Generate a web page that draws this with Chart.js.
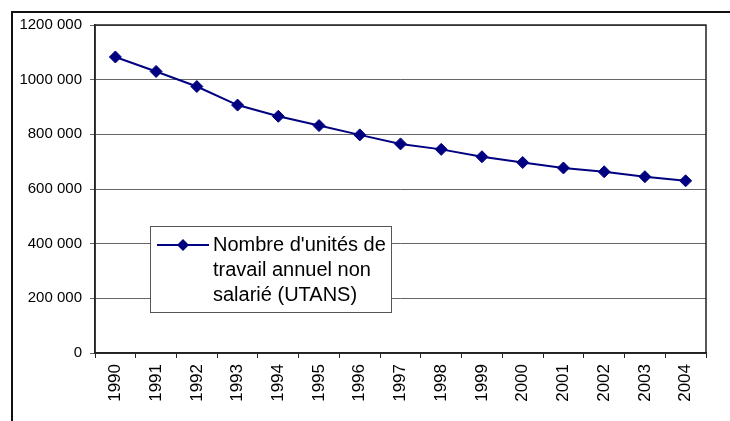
<!DOCTYPE html>
<html>
<head>
<meta charset="utf-8">
<script src="https://cdn.jsdelivr.net/npm/chart.js@4.4.1/dist/chart.umd.min.js"></script>
<style>
  html, body { margin: 0; padding: 0; background: #fff; }
  body { width: 730px; height: 421px; position: relative; overflow: hidden; }
  #frame { position: absolute; left: 11px; top: 11px; width: 740px; height: 440px; border: 2px solid #111; }
  #wrap { position: absolute; left: 0; top: 0; width: 730px; height: 421px; }
</style>
</head>
<body>
<div id="frame"></div>
<div id="wrap"><canvas id="chart"></canvas></div>
<script>
// data
const years = ['1990', '1991', '1992', '1993', '1994', '1995', '1996', '1997',
               '1998', '1999', '2000', '2001', '2002', '2003', '2004']
const utans = [1083000, 1030000, 975000, 907000, 866000, 832000, 798000, 765000,
               745000, 718000, 697000, 677000, 663000, 645000, 630000]
const seriesLabel = "Nombre d'unités de travail annuel non salarié (UTANS)"
const legendLines = ["Nombre d'unités de", "travail annuel non", "salarié (UTANS)"]
const yMax = 1200000
const yStep = 200000

// "1200 000" style
const formatTick = v => {
    if (v < 1000) return String(v)
    const thousands = Math.floor(v / 1000)
    return thousands + ' ' + String(v % 1000).padStart(3, '0')
}

// plot area border + boxed legend sitting inside the plot
const framePlugin = {
    id: 'frameAndLegend',
    afterDraw(chart) {
        const {ctx, chartArea} = chart
        ctx.save()
        ctx.strokeStyle = '#222'
        ctx.lineWidth = 1.5
        ctx.strokeRect(chartArea.left, chartArea.top, chartArea.right - chartArea.left, chartArea.bottom - chartArea.top)

        const bx = chartArea.left + 55, by = chartArea.top + 201
        const bw = 241, bh = 86
        ctx.fillStyle = '#fff'
        ctx.fillRect(bx, by, bw, bh)
        ctx.strokeStyle = '#555'
        ctx.lineWidth = 1
        ctx.strokeRect(bx + 0.5, by + 0.5, bw, bh)

        const ds = chart.data.datasets[0]
        const ly = by + 19
        ctx.strokeStyle = ds.borderColor
        ctx.lineWidth = 2
        ctx.beginPath()
        ctx.moveTo(bx + 7, ly)
        ctx.lineTo(bx + 59, ly)
        ctx.stroke()
        ctx.fillStyle = ds.backgroundColor
        ctx.beginPath()
        ctx.moveTo(bx + 33, ly - 6)
        ctx.lineTo(bx + 39, ly)
        ctx.lineTo(bx + 33, ly + 6)
        ctx.lineTo(bx + 27, ly)
        ctx.closePath()
        ctx.fill()

        ctx.fillStyle = '#000'
        ctx.font = '20px "Liberation Sans", Arial, sans-serif'
        ctx.textBaseline = 'middle'
        legendLines.forEach((line, i) => {
            ctx.fillText(line, bx + 63, ly + i * 25)
        })
        ctx.restore()
    }
}

const data = {
    labels: years,
    datasets: [{
        label: seriesLabel,
        data: utans,
        borderColor: '#000080',
        backgroundColor: '#000080',
        borderWidth: 2,
        pointStyle: 'rectRot',
        pointRadius: 6,
        pointBorderWidth: 1,
        pointBorderColor: '#000080',
        pointBackgroundColor: '#000080',
        tension: 0
    }]
}

const config = {
    type: 'line',
    data,
    options: {
        responsive: false,
        animation: false,
        devicePixelRatio: 1,
        layout: { padding: { top: 25, right: 24, bottom: 0, left: 0 } },
        plugins: {
            legend: { display: false },
            tooltip: { enabled: false }
        },
        scales: {
            x: {
                offset: true,
                grid: { offset: true, drawOnChartArea: false, drawTicks: true, tickLength: 5, color: '#222' },
                border: { color: '#222', width: 1.5 },
                ticks: {
                    minRotation: 90, maxRotation: 90, autoSkip: false, padding: 6,
                    color: '#000',
                    font: { family: '"Liberation Sans", Arial, sans-serif', size: 17 }
                },
                afterFit(scale) { scale.height = 68 }
            },
            y: {
                min: 0,
                max: yMax,
                ticks: {
                    stepSize: yStep, padding: 8, color: '#000',
                    callback: formatTick,
                    font: { family: '"Liberation Sans", Arial, sans-serif', size: 15 }
                },
                grid: { color: '#666', lineWidth: 1, tickLength: 5 },
                border: { color: '#222', width: 1.5 },
                afterFit(scale) { scale.width = 95 }
            }
        }
    },
    plugins: [framePlugin]
}

const canvas = document.getElementById('chart')
canvas.width = 730
canvas.height = 421
new Chart(canvas, config)
</script>
</body>
</html>
